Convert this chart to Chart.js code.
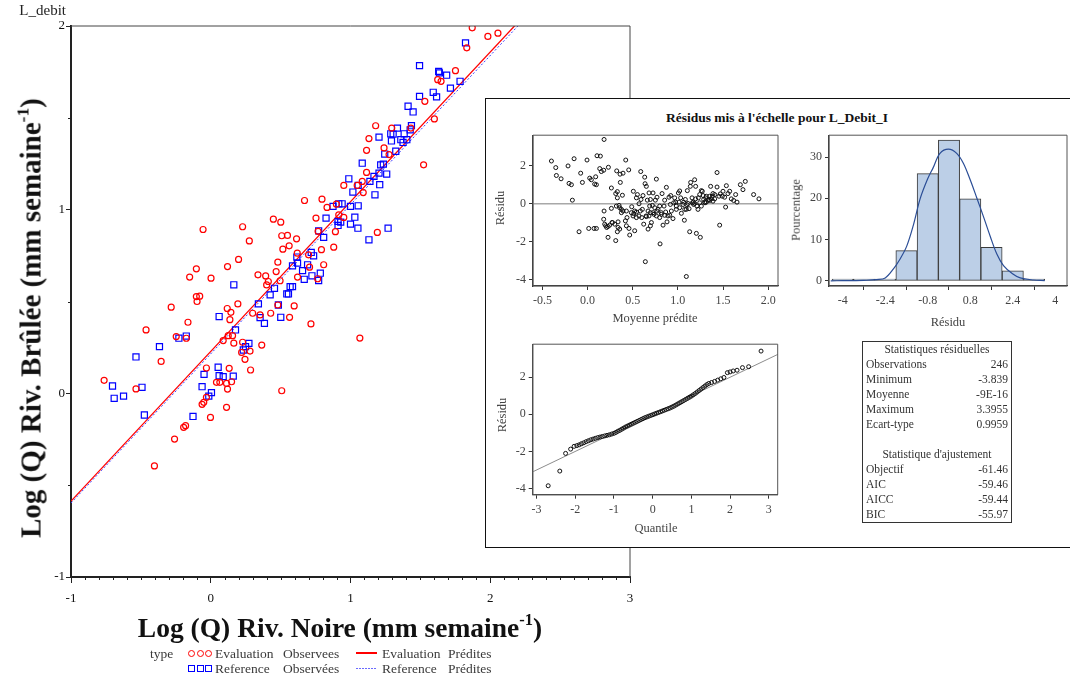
<!DOCTYPE html>
<html>
<head>
<meta charset="utf-8">
<title>Log (Q) Riv. Brûlée / Riv. Noire</title>
<script src="https://cdn.jsdelivr.net/npm/chart.js@4.4.1/dist/chart.umd.min.js"></script>
<style>
  body { margin: 0; width: 1070px; height: 677px; overflow: hidden; background: #fff; position: relative;
         font-family: "Liberation Serif", "Times New Roman", serif; }
  canvas, .txt, .box { position: absolute; }
  .txt { white-space: nowrap; line-height: 1; }
  .ctr { transform: translate(-50%, -50%); }
  .rot { transform: translate(-50%, -50%) rotate(-90deg); }
  sup { font-size: 0.6em; vertical-align: 0; position: relative; top: -0.7em; }
  #inset { left: 485px; top: 98px; width: 600px; height: 448px; background: #fff;
           border-left: 1px solid #111; border-top: 1px solid #111; border-bottom: 1px solid #111; }
  .sub { font-size: 12.5px; color: #444; }
  .lg { font-size: 13.5px; color: #3a3a3a; line-height: 16px; }
  .circ { position: absolute; box-sizing: border-box; width: 7px; height: 7px; border: 1.3px solid #ff0000; border-radius: 50%; }
  .sq { position: absolute; box-sizing: border-box; width: 7px; height: 7px; border: 1.4px solid #0000ff; }
  #stats { left: 862px; top: 341px; width: 148px; border: 1px solid #333; font-size: 11.5px; color: #333; }
  #stats div { height: 15px; line-height: 15px; display: flex; justify-content: space-between; padding: 0 3px; }
  #stats div.hd { justify-content: center; }
</style>
</head>
<body>

<canvas id="mainChart" width="1070" height="677" style="left:0;top:0"></canvas>

<div class="txt" style="left:16px;top:3px;width:50px;text-align:right;font-size:15px;color:#222">L_debit</div>
<div class="txt ctr" style="left:340px;top:628px;font-weight:bold;font-size:27.5px;color:#111">Log (Q) Riv. Noire (mm semaine<sup>-1</sup>)</div>
<div class="txt rot" style="left:31px;top:318px;font-weight:bold;font-size:29px;color:#111">Log (Q) Riv. Brûlée (mm semaine<sup>-1</sup>)</div>

<!-- legend -->
<div class="txt lg" style="left:150px;top:646px">type</div>
<span class="circ" style="left:188px;top:650px"></span>
<span class="circ" style="left:196.5px;top:650px"></span>
<span class="circ" style="left:205px;top:650px"></span>
<div class="txt lg" style="left:215px;top:646px">Evaluation</div>
<div class="txt lg" style="left:283px;top:646px">Observees</div>
<div class="box" style="left:356px;top:652px;width:21px;height:1.6px;background:#ff0000"></div>
<div class="txt lg" style="left:382px;top:646px">Evaluation</div>
<div class="txt lg" style="left:448px;top:646px">Prédites</div>
<span class="sq" style="left:188px;top:665px"></span>
<span class="sq" style="left:196.5px;top:665px"></span>
<span class="sq" style="left:205px;top:665px"></span>
<div class="txt lg" style="left:215px;top:661px">Reference</div>
<div class="txt lg" style="left:283px;top:661px">Observées</div>
<div class="box" style="left:356px;top:668px;width:21px;height:1px;background:repeating-linear-gradient(90deg,#6a6aff 0 2px,transparent 2px 3px)"></div>
<div class="txt lg" style="left:382px;top:661px">Reference</div>
<div class="txt lg" style="left:448px;top:661px">Prédites</div>

<!-- inset panel -->
<div class="box" id="inset"></div>
<div class="txt ctr" style="left:777px;top:118px;font-weight:bold;font-size:13.5px;color:#111">Résidus mis à l'échelle pour L_Debit_I</div>

<canvas id="resChart" width="300" height="210" style="left:485px;top:125px"></canvas>
<canvas id="histChart" width="288" height="210" style="left:782px;top:125px"></canvas>
<canvas id="qqChart" width="300" height="205" style="left:485px;top:334px"></canvas>

<div class="txt rot sub" style="left:500px;top:208px">Résidu</div>
<div class="txt ctr sub" style="left:655px;top:318px">Moyenne prédite</div>
<div class="txt rot sub" style="left:796px;top:210px">Pourcentage</div>
<div class="txt ctr sub" style="left:948px;top:322px">Résidu</div>
<div class="txt rot sub" style="left:502px;top:415px">Résidu</div>
<div class="txt ctr sub" style="left:656px;top:528px">Quantile</div>

<div class="box" id="stats"></div>

<script>
// Main scatter: Evaluation (red circles) and Reference (blue squares)
const evalObsX = [1.871, 1.832, 1.751, 1.624, 1.648, 1.532, 1.600, 1.523, 1.432, 1.180, 1.295, 1.132, 1.115, 1.240, 1.276,
  1.115, 1.084, 1.048, 0.952, 1.091, 1.192, 0.671, 0.796, 0.832, 0.899, 0.916, 0.952, 0.753, 0.448, 0.501, 0.228, -0.055,
  0.508, 0.549, 0.614, 0.276, 0.768, 0.892, 0.880, 0.561, 0.516, 0.792, 0.619, 0.700, 0.480, 0.199, 0.120, -0.103, -0.151,
  0.002, 0.338, 0.393, 0.468, 0.707, 0.808, 0.621, 0.765, 0.400, 0.412, 0.496, -0.103, -0.079, -0.098, -0.283, 0.118, 0.144,
  0.194, 0.480, 0.597, -0.163, -0.463, 0.137, -0.247, -0.175, -0.355, -0.763, -0.535, -0.031, 0.132, 0.285, 0.089, 0.125,
  0.156, 0.165, 0.228, 0.221, 0.245, 0.281, 0.365, 0.300, 0.353, 0.429, 0.564, 0.717, 1.067, 0.041, 0.065, 0.113, 0.149,
  0.120, 0.508, -0.031, -0.050, -0.062, 0.113, -0.002, -0.180, -0.194, -0.259, -0.403, 1.983, 2.055];
const evalObsY = [1.990, 1.881, 1.757, 1.708, 1.699, 1.590, 1.494, 1.244, 1.444, 1.457, 1.444, 1.387, 1.323, 1.336, 1.300,
  1.203, 1.154, 1.132, 1.132, 1.093, 0.876, 1.050, 1.057, 1.012, 1.030, 0.972, 0.958, 0.954, 0.948, 0.932, 0.907, 0.892,
  0.858, 0.860, 0.841, 0.830, 0.882, 0.880, 0.796, 0.803, 0.785, 0.782, 0.763, 0.754, 0.714, 0.729, 0.690, 0.678, 0.633,
  0.627, 0.645, 0.639, 0.663, 0.687, 0.700, 0.633, 0.624, 0.590, 0.609, 0.613, 0.527, 0.529, 0.500, 0.469, 0.462, 0.441,
  0.487, 0.481, 0.476, 0.387, 0.345, 0.401, 0.309, 0.300, 0.174, 0.071, 0.024, 0.138, 0.136, 0.127, 0.287, 0.314,
  0.314, 0.273, 0.278, 0.223, 0.185, 0.230, 0.263, 0.436, 0.427, 0.436, 0.414, 0.378, 0.301, 0.060, 0.060, 0.054, 0.063,
  0.023, 0.014, -0.022, -0.049, -0.060, -0.076, -0.131, -0.176, -0.185, -0.249, -0.395, 1.943, 1.961];

const refObsX = [1.823, 1.494, 1.631, 1.636, 1.688, 1.784, 1.715, 1.592, 1.616, 1.494, 1.412, 1.448, 1.436, 1.427, 1.336,
  1.288, 1.305, 1.384, 1.360, 1.403, 1.376, 1.293, 1.204, 1.324, 1.245, 1.235, 1.216, 1.084, 1.204, 1.259, 1.168, 1.139,
  0.988, 1.055, 1.017, 1.209, 1.175, 0.916, 0.940, 0.875, 1.000, 1.055, 0.825, 1.031, 0.911, 0.930, 1.000, 1.053, 0.911,
  1.269, 1.132, 0.772, 0.808, 0.719, 0.736, 0.616, 0.585, 0.621, 0.693, 0.657, 0.669, 0.724, 0.784, 0.772, 0.568, 0.585,
  0.544, 0.556, 0.456, 0.425, 0.165, 0.341, 0.484, 0.060, 0.353, 0.384, 0.501, 0.177, -0.228, -0.175, -0.367, -0.535,
  -0.703, -0.492, -0.691, -0.624, -0.475, -0.127, 0.053, -0.048, 0.060, 0.089, 0.161, -0.062, 0.005, -0.014, 0.233, 0.249,
  0.273];
const refObsY = [1.908, 1.784, 1.753, 1.745, 1.732, 1.699, 1.662, 1.639, 1.614, 1.617, 1.563, 1.532, 1.457, 1.435, 1.444,
  1.413, 1.411, 1.413, 1.381, 1.381, 1.366, 1.374, 1.395, 1.318, 1.303, 1.248, 1.244, 1.253, 1.199, 1.194, 1.181, 1.154,
  1.168, 1.132, 1.096, 1.136, 1.081, 1.032, 1.032, 1.018, 1.018, 1.021, 0.954, 0.959, 0.936, 0.932, 0.921, 0.899, 0.914,
  0.899, 0.836, 0.885, 0.849, 0.767, 0.749, 0.742, 0.694, 0.709, 0.700, 0.668, 0.621, 0.640, 0.654, 0.614, 0.581, 0.581,
  0.541, 0.541, 0.572, 0.536, 0.591, 0.487, 0.481, 0.418, 0.412, 0.381, 0.414, 0.345, 0.300, 0.312, 0.254, 0.198,
  0.040, 0.033, -0.027, -0.015, -0.118, -0.126, 0.142, 0.103, 0.096, 0.091, 0.094, 0.036, 0.004, -0.015, 0.236, 0.254,
  0.272];

// predicted lines (end points of the fitted lines)
const predX = [-1, 2.3];
const evalPredY = [-0.587, 2.103];
const refPredY = [-0.597, 2.083];

const xMajor = [-1, 0, 1, 2, 3];
const yMajor = [-1, 0, 1, 2];
const xMinor = [];
for (let k = -10; k <= 30; k++) { if (k % 10 !== 0) xMinor.push(k / 10); }
const yMinor = [-0.5, 0.5, 1.5];

// inset: scaled residuals vs predicted mean
const resPred = [-0.400, -0.352, -0.345, -0.293, -0.216, -0.149, -0.205, -0.179, -0.168, -0.094, -0.076, -0.057, -0.006,
  0.024, 0.042, 0.013, 0.072, 0.098, 0.079, 0.098, 0.090, 0.105, 0.142, 0.135, 0.153, 0.183, 0.179, 0.231, 0.212, 0.227,
  0.183, 0.179, 0.190, 0.201, 0.245, 0.271, 0.264, 0.312, 0.323, 0.330, 0.330, 0.349, 0.360, 0.363, 0.386, 0.319, 0.312,
  0.330, 0.338, 0.338, 0.356, 0.375, 0.375, 0.393, 0.423, 0.419, 0.430, 0.437, 0.456, 0.459, 0.467, 0.489, 0.507, 0.511,
  0.522, 0.541, 0.552, 0.570, 0.585, 0.589, 0.592, 0.600, 0.614, 0.622, 0.633, 0.637, 0.640, 0.648, 0.651, 0.662, 0.670,
  0.681, 0.688, 0.696, 0.707, 0.718, 0.725, 0.736, 0.762, 0.780, 0.799, 0.803, 0.825, 0.836, 0.847, 0.854, 0.873, 0.880,
  0.902, 0.921, 0.928, 0.946, 0.965, 0.976, 0.983, 1.006, 1.020, 1.039, 1.057, 1.072, 1.083, 1.094, 1.105, 1.113, 1.131,
  1.138, 1.142, 1.157, 1.175, 1.186, 1.197, 1.205, 1.212, 1.227, 1.242, 1.249, 1.260, 1.271, 1.286, 1.301, 1.315, 1.334,
  1.345, 1.352, 1.363, 1.371, 1.389, 1.408, 1.434, 1.434, 1.463, 1.470, 1.500, 1.518, 1.529, 1.537, 1.555, 1.574, 1.592,
  1.618, 1.640, 1.655, 1.692, 1.721, 1.747, 1.839, 1.898,
  0.744, 0.769, 0.817, 0.865, 0.891, 0.910, 0.983, 1.013, 1.031, 1.065, 1.101, 1.161, 1.172, 1.186, 1.124, 1.223, 1.260,
  1.297, 1.308, 1.352, 1.382, 0.817, 0.854, 0.681, 0.696, 0.651, 0.570, 0.541, 0.504, 0.522, 0.485, 0.430, 0.393, 0.356,
  0.264, 0.275, 0.301, 0.227, 0.541, 0.607, 0.670, 0.725, 0.762, 0.696, 0.751, 0.769, 0.799, 0.954, 0.917, 1.020, 1.076,
  1.242, 1.197, 1.279, 1.315, 1.408, 1.456, 1.493, 1.389, 1.094];
const resVal = [2.257, 1.910, 1.493, 1.319, 1.997, 2.378, 1.076, 1.007, 0.191, -1.476, 1.615, 1.128, 2.309,
  1.354, 1.267, -1.302, -1.302, -1.302, 1.042, 1.007, 1.424, 2.535, 2.517, 1.858, 1.701, 3.395, 1.771, 1.927, -1.250, -1.771,
  -0.382, -0.816, -1.076, -1.163, -1.128, -0.990, 0.833, 0.538, 1.736, 0.642, 0.313, -0.087, 1.563, 1.128, 0.451, -0.122, -1.944,
  -1.476, -1.250, -0.955, -1.337, -0.295, -0.469, 1.615, 2.309, -0.903, -1.163, -0.729, 1.788, -1.302, -1.649, -0.156, 0.660, -0.521,
  -1.424, 0.313, 0.486, 0.000, -0.382, 1.701, 0.226, -0.729, 0.434, -1.076, 1.406, 1.059, -3.056, -0.642, 0.920, 0.191, -1.337,
  0.573, -0.122, -1.163, -0.990, -0.087, 0.573, -0.556, 1.302, -0.295, -0.729, -2.118, 0.538, -1.128, -0.122, 0.191, 0.868, -0.955,
  0.347, 0.434, -0.382, -0.781, 0.313, 0.087, -0.295, 0.573, 0.677, -0.503, -0.035, -0.868, 0.226, -3.839, 0.694, 0.017, -1.476,
  0.920, 1.128, 0.313, -0.035, 1.267, 0.920, -1.562, -0.122, 0.313, 0.486, -1.771, 0.694, 0.660, 0.226, 0.052, 0.399, 0.191,
  0.226, 0.174, 0.920, 0.260, 0.139, 0.260, 1.649, 0.885, -1.128, 0.521, 0.660, 0.347, -0.174, 0.955, 0.538, 0.660, 0.260,
  0.174, 0.486, 0.087, 1.007, 0.747, 1.181, 0.486, 0.260,
  -0.208, -0.382, -0.469, -0.434, -0.642, -0.608, -0.122, 0.087, 0.313, 0.087, -0.052, 0.052, 0.087, 0.017, -0.260, -0.295, -0.122,
  0.087, 0.313, 0.399, 0.399, -0.556, -0.608, -0.642, -0.469, -0.677, -0.642, -0.729, -0.642, -0.382, -0.469, -0.382, -0.382, -0.208,
  -0.243, -0.990, -1.076, -1.198, -0.434, -0.295, -0.382, -0.469, -0.642, 0.226, 0.191, 0.347, -0.122, 0.052, -0.035, -0.208, -0.295,
  0.052, 0.260, 0.434, 0.087, 0.486, 0.399, 0.399, 0.538, -0.295];
const zeroLineX = [-1, 3];
const zeroLineY = [0, 0];

// inset: histogram of residuals (percent) and density curve
const histMid = [-4.0, -3.2, -2.4, -1.6, -0.8, 0.0, 0.8, 1.6, 2.4, 3.2];
const histPct = [0.4, 0.4, 0.4, 7.3, 26.0, 34.1, 19.9, 8.1, 2.4, 0.4];
const densX = [-4.45, -4.0, -3.5, -3.22, -2.72, -2.4, -2.09, -1.84, -1.59, -1.34, -1.09, -0.81, -0.59, -0.34, -0.02,
  0.29, 0.54, 0.79, 1.04, 1.30, 1.55, 1.80, 2.05, 2.39, 2.68, 3.18, 3.6];
const densY = [0, 0.02, 0.05, 0.1, 0.3, 0.7, 2.9, 5.3, 8.4, 13.5, 19.8, 24.6, 27.5, 30.9, 31.9,
  30.9, 28.5, 24.6, 20.2, 15.5, 10.8, 6.5, 3.7, 1.7, 0.7, 0.2, 0.05];

// inset: normal quantile plot
const qqX = [-2.70, -2.40, -2.25, -2.12, -2.03, -1.96, -1.90, -1.84, -1.78, -1.72, -1.66, -1.60, -1.54, -1.48, -1.42,
  -1.36, -1.30, -1.24, -1.18, -1.12, -1.06, -1.00, -0.95, -0.90, -0.85, -0.80, -0.75, -0.70, -0.65, -0.60, -0.55, -0.50,
  -0.45, -0.40, -0.35, -0.30, -0.25, -0.20, -0.15, -0.10, -0.05, 0.00, 0.05, 0.10, 0.15, 0.20, 0.25, 0.30, 0.35, 0.40,
  0.45, 0.50, 0.55, 0.60, 0.65, 0.70, 0.75, 0.80, 0.85, 0.90, 0.95, 1.00, 1.05, 1.10, 1.15, 1.20, 1.25, 1.30, 1.35, 1.40,
  1.45, 1.52, 1.60, 1.68, 1.76, 1.84, 1.93, 2.00, 2.08, 2.18, 2.32, 2.48, 2.80];
const qqY = [-3.84, -3.05, -2.10, -1.87, -1.72, -1.68, -1.64, -1.58, -1.53, -1.47, -1.42, -1.37, -1.33, -1.29, -1.25,
  -1.22, -1.19, -1.16, -1.13, -1.10, -1.06, -1.02, -0.97, -0.91, -0.86, -0.80, -0.74, -0.68, -0.63, -0.58, -0.53, -0.48,
  -0.43, -0.38, -0.33, -0.28, -0.23, -0.18, -0.14, -0.10, -0.06, -0.02, 0.02, 0.06, 0.10, 0.14, 0.18, 0.22, 0.26, 0.30,
  0.34, 0.39, 0.44, 0.50, 0.56, 0.62, 0.68, 0.74, 0.80, 0.86, 0.92, 0.98, 1.05, 1.12, 1.20, 1.28, 1.36, 1.44, 1.52, 1.60,
  1.66, 1.71, 1.77, 1.84, 1.91, 1.98, 2.24, 2.28, 2.33, 2.37, 2.51, 2.56, 3.40];
const qqLineX = [-3.3, 3.4];
const qqLineY = [-3.29, 3.39];

// inset: statistics table
const statLabels = ['Observations', 'Minimum', 'Moyenne', 'Maximum', 'Ecart-type'];
const statValues = ['246', '-3.839', '-9E-16', '3.3955', '0.9959'];
const fitLabels = ['Objectif', 'AIC', 'AICC', 'BIC'];
const fitValues = ['-61.46', '-59.46', '-59.44', '-55.97'];

const fontFam = '"Liberation Serif", "Times New Roman", serif';

function pairs(xs, ys) {
  return xs.map((x, i) => ({ x: x, y: ys[i] }));
}

function fixedTicks(vals) {
  return s => { s.ticks = vals.map(v => ({ value: v })); };
}

// short minor ticks outside the main axes
const minorTicks = {
  id: 'minorTicks',
  afterDraw(chart, args, opts) {
    const { ctx, chartArea: a, scales: { x, y } } = chart;
    ctx.save();
    ctx.strokeStyle = '#222';
    ctx.lineWidth = 1;
    ctx.beginPath();
    opts.x.forEach(v => {
      const px = Math.round(x.getPixelForValue(v)) + 0.5;
      ctx.moveTo(px, a.bottom);
      ctx.lineTo(px, a.bottom + opts.len);
    });
    opts.y.forEach(v => {
      const py = Math.round(y.getPixelForValue(v)) + 0.5;
      ctx.moveTo(a.left, py);
      ctx.lineTo(a.left - opts.len, py);
    });
    ctx.stroke();
    ctx.restore();
  }
};

// frame round the plot area
const frameBox = {
  id: 'frameBox',
  afterDatasetsDraw(chart, args, opts) {
    const { ctx, chartArea: a } = chart;
    ctx.save();
    ctx.strokeStyle = opts.color;
    ctx.lineWidth = opts.width;
    ctx.beginPath();
    if (opts.all) {
      ctx.rect(a.left, a.top, a.right - a.left, a.bottom - a.top);
    } else {
      ctx.moveTo(a.left, a.top);
      ctx.lineTo(a.right, a.top);
      ctx.lineTo(a.right, a.bottom);
    }
    ctx.stroke();
    ctx.restore();
  }
};

new Chart(document.getElementById('mainChart'), {
  type: 'scatter',
  data: {
    datasets: [
      { label: 'Evaluation Observées', data: pairs(evalObsX, evalObsY), pointStyle: 'circle', pointRadius: 3,
        borderColor: '#ff0000', backgroundColor: 'rgba(0,0,0,0)', borderWidth: 1.2 },
      { label: 'Reference Observées', data: pairs(refObsX, refObsY), pointStyle: 'rect', pointRadius: 4.3,
        borderColor: '#0000ff', backgroundColor: 'rgba(0,0,0,0)', borderWidth: 1.2 },
      { type: 'line', label: 'Evaluation Prédites', data: pairs(predX, evalPredY), borderColor: '#ff0000',
        borderWidth: 1.3, pointRadius: 0, fill: false },
      { type: 'line', label: 'Reference Prédites', data: pairs(predX, refPredY), borderColor: '#3b3bff',
        borderWidth: 1, borderDash: [2, 2], pointRadius: 0, fill: false }
    ]
  },
  options: {
    responsive: false,
    animation: false,
    events: [],
    layout: { padding: { left: 0, right: 440, top: 26, bottom: 0 } },
    plugins: {
      legend: { display: false },
      tooltip: { enabled: false },
      minorTicks: { x: xMinor, y: yMinor, len: 3 },
      frameBox: { color: '#444', width: 1, all: false }
    },
    scales: {
      x: {
        type: 'linear', min: -1, max: 3,
        afterBuildTicks: fixedTicks(xMajor),
        afterFit: s => { s.height = 100; },
        grid: { drawOnChartArea: false, tickLength: 6, color: '#222' },
        border: { color: '#222', width: 2 },
        ticks: { color: '#111', font: { family: fontFam, size: 13 }, padding: 8, maxRotation: 0, autoSkip: false }
      },
      y: {
        type: 'linear', min: -1, max: 2,
        afterBuildTicks: fixedTicks(yMajor),
        afterFit: s => { s.width = 71; },
        grid: { drawOnChartArea: false, tickLength: 5, color: '#222' },
        border: { color: '#222', width: 2 },
        ticks: { color: '#111', font: { family: fontFam, size: 13 }, padding: 1, autoSkip: false }
      }
    }
  },
  plugins: [minorTicks, frameBox]
});

// shared options for the three small charts of the inset
function insetOptions(cfg) {
  const tickFont = { family: fontFam, size: 12 };
  return {
    responsive: false,
    animation: false,
    events: [],
    layout: { padding: cfg.padding },
    plugins: {
      legend: { display: false },
      tooltip: { enabled: false },
      frameBox: { color: '#555', width: 1, all: true }
    },
    scales: {
      x: {
        type: 'linear', min: cfg.xMin, max: cfg.xMax, offset: false,
        afterBuildTicks: fixedTicks(cfg.xTicks),
        afterFit: s => { s.height = cfg.xHeight; },
        grid: { drawOnChartArea: false, tickLength: 4, color: '#333' },
        border: { color: '#333', width: 1.3 },
        ticks: { color: '#444', font: tickFont, padding: 4, maxRotation: 0, autoSkip: false, callback: cfg.xFmt }
      },
      y: {
        type: 'linear', min: cfg.yMin, max: cfg.yMax,
        afterBuildTicks: fixedTicks(cfg.yTicks),
        afterFit: s => { s.width = cfg.yWidth; },
        grid: { drawOnChartArea: false, tickLength: 4, color: '#333' },
        border: { color: '#333', width: 1.3 },
        ticks: { color: '#444', font: tickFont, padding: 3, autoSkip: false }
      }
    }
  };
}

new Chart(document.getElementById('resChart'), {
  type: 'scatter',
  data: {
    datasets: [
      { data: pairs(resPred, resVal), pointStyle: 'circle', pointRadius: 2, borderColor: '#111',
        backgroundColor: 'rgba(0,0,0,0)', borderWidth: 1, order: 0 },
      { type: 'line', data: pairs(zeroLineX, zeroLineY), borderColor: '#a8a8a8', borderWidth: 1.5,
        pointRadius: 0, order: 1 }
    ]
  },
  options: insetOptions({
    padding: { left: 0, right: 7, top: 7.5, bottom: 0 }, yWidth: 48, xHeight: 49,
    xMin: -0.604, xMax: 2.109, xTicks: [-0.5, 0, 0.5, 1, 1.5, 2], xFmt: v => Number(v).toFixed(1),
    yMin: -4.34, yMax: 3.62, yTicks: [-4, -2, 0, 2]
  }),
  plugins: [frameBox]
});

new Chart(document.getElementById('histChart'), {
  type: 'bar',
  data: {
    datasets: [
      { type: 'bar', data: pairs(histMid, histPct), backgroundColor: '#bccfe7', borderColor: '#3a3a3a',
        borderWidth: 1, borderSkipped: false, barPercentage: 1, categoryPercentage: 1, order: 1 },
      { type: 'line', data: pairs(densX, densY), borderColor: '#2a4d96', borderWidth: 1.2, pointRadius: 0,
        tension: 0.35, fill: false, order: 0 }
    ]
  },
  options: insetOptions({
    padding: { left: 0, right: 3, top: 7.3, bottom: 0 }, yWidth: 47, xHeight: 49,
    xMin: -4.515, xMax: 4.44, xTicks: [-4, -2.4, -0.8, 0.8, 2.4, 4], xFmt: v => String(v),
    yMin: -1.26, yMax: 35.3, yTicks: [0, 10, 20, 30]
  }),
  plugins: [frameBox]
});

new Chart(document.getElementById('qqChart'), {
  type: 'scatter',
  data: {
    datasets: [
      { data: pairs(qqX, qqY), pointStyle: 'circle', pointRadius: 2, borderColor: '#111',
        backgroundColor: 'rgba(0,0,0,0)', borderWidth: 1, order: 0 },
      { type: 'line', data: pairs(qqLineX, qqLineY), borderColor: '#8c8c8c', borderWidth: 1,
        pointRadius: 0, order: 1 }
    ]
  },
  options: insetOptions({
    padding: { left: 0, right: 7.3, top: 7, bottom: 0 }, yWidth: 47.7, xHeight: 44.3,
    xMin: -3.1, xMax: 3.23, xTicks: [-3, -2, -1, 0, 1, 2, 3], xFmt: v => String(v),
    yMin: -4.32, yMax: 3.77, yTicks: [-4, -2, 0, 2]
  }),
  plugins: [frameBox]
});

// statistics table
const stats = document.getElementById('stats');
function addRow(left, right, header) {
  const row = document.createElement('div');
  if (header) row.className = 'hd';
  const a = document.createElement('span');
  a.textContent = left;
  row.appendChild(a);
  if (right !== null) {
    const b = document.createElement('span');
    b.textContent = right;
    row.appendChild(b);
  }
  stats.appendChild(row);
}
addRow('Statistiques résiduelles', null, true);
statLabels.forEach((l, i) => addRow(l, statValues[i], false));
addRow('', null, true);
addRow("Statistique d'ajustement", null, true);
fitLabels.forEach((l, i) => addRow(l, fitValues[i], false));
</script>
</body>
</html>
